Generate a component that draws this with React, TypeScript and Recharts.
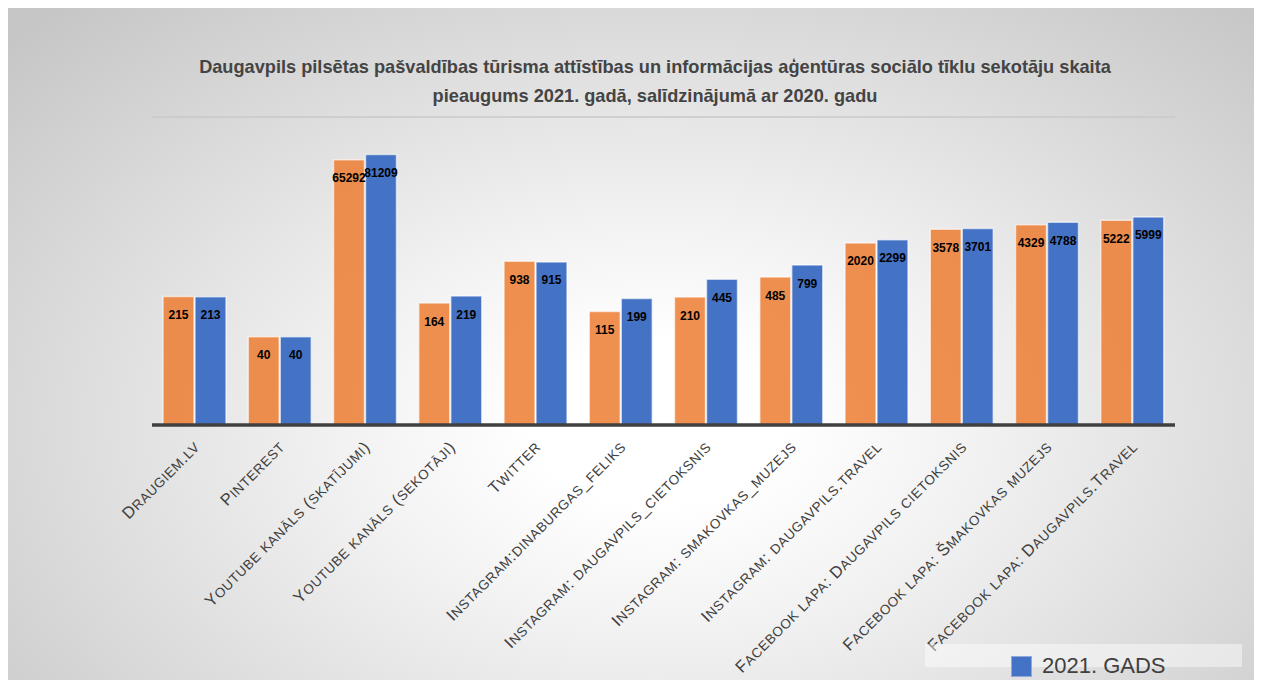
import React from 'react';
import { BarChart, Bar, XAxis, YAxis, CartesianGrid, LabelList } from 'recharts';

const categories = [
  'Draugiem.lv',
  'Pinterest',
  'Youtube kanāls (skatījumi)',
  'Youtube kanāls (sekotāji)',
  'Twitter',
  'Instagram:dinaburgas_feliks',
  'Instagram: daugavpils_cietoksnis',
  'Instagram: smakovkas_muzejs',
  'Instagram: daugavpils.travel',
  'Facebook lapa: Daugavpils cietoksnis',
  'Facebook lapa: Šmakovkas muzejs',
  'Facebook lapa: Daugavpils.Travel',
];
const values2020 = [215, 40, 65292, 164, 938, 115, 210, 485, 2020, 3578, 4329, 5222];
const values2021 = [213, 40, 81209, 219, 915, 199, 445, 799, 2299, 3701, 4788, 5999];
const yTicks = [1, 5, 25, 125, 625, 3125, 15625, 78125, 390625];

const title1 = 'Daugavpils pilsētas pašvaldības tūrisma attīstības un informācijas aģentūras sociālo tīklu sekotāju skaita';
const title2 = 'pieaugums 2021. gadā, salīdzinājumā ar 2020. gadu';
const series2020 = '2020. gads';
const series2021 = '2021. gads';

const data = categories.map((c, i) => ({ name: c, v2020: values2020[i], v2021: values2021[i] }));

const W = 1251;
const H = 672;

// split text into runs of "big" (original capitals / non-letters) and "small" (lowercase letters)
const smallCapsRuns = (s: string) => {
  const runs: { t: string; small: boolean }[] = [];
  for (const ch of s) {
    const small = ch !== ch.toUpperCase();
    const last = runs[runs.length - 1];
    if (last && last.small === small) last.t += ch;
    else runs.push({ t: ch, small });
  }
  return runs.map((r) => ({ t: r.t.toUpperCase(), small: r.small }));
};

const Tick = (props: any) => {
  const { x, y, payload } = props;
  const ax = x + 6;
  const ay = y + 15;
  const runs = smallCapsRuns(String(payload.value));
  return (
    <text
      x={ax}
      y={ay}
      transform={`rotate(-45, ${ax}, ${ay})`}
      textAnchor="end"
      fill="#404040"
      style={{ fontFamily: 'Liberation Sans', fontSize: 16.5, letterSpacing: 0.6 }}
    >
      {runs.map((r, i) => (
        <tspan key={i} style={{ fontSize: r.small ? 13.5 : 16.5 }}>
          {r.t}
        </tspan>
      ))}
    </text>
  );
};

export default function App() {
  return (
    <div
      style={{
        position: 'relative',
        width: W,
        height: H,
        background:
          'radial-gradient(ellipse 70% 85% at 52% 62%, #ffffff 14%, #f2f2f2 36%, #c6c6c6 100%)',
      }}
    >
      <div
        style={{
          position: 'absolute',
          left: 0,
          top: 45,
          width: 1294,
          textAlign: 'center',
          fontFamily: 'Liberation Sans',
          fontWeight: 'bold',
          fontSize: 18.2,
          lineHeight: '29px',
          color: '#444444',
        }}
      >
        <div>{title1}</div>
        <div>{title2}</div>
      </div>
      <BarChart
        width={W}
        height={H}
        data={data}
        margin={{ top: 109, right: 84, bottom: 0, left: 144 }}
        barCategoryGap={11}
        barGap={1}
        style={{ position: 'absolute', left: 0, top: 0 }}
      >
        <CartesianGrid vertical={false} stroke="#c8c8c8" strokeWidth={1.5} />
        <YAxis
          scale="log"
          domain={[1, 390625]}
          ticks={yTicks}
          allowDataOverflow
          width={0}
          tick={false}
          axisLine={false}
          tickLine={false}
        />
        <XAxis
          dataKey="name"
          interval={0}
          height={255}
          tickLine={false}
          axisLine={{ stroke: '#404040', strokeWidth: 3.5 }}
          tick={<Tick />}
        />
        <Bar
          dataKey="v2020"
          name={series2020}
          fill="#ED7D31"
          fillOpacity={0.85}
          stroke="#ffffff"
          strokeOpacity={0.6}
          strokeWidth={1.5}
          isAnimationActive={false}
        >
          <LabelList
            dataKey="v2020"
            position="insideTop"
            offset={14}
            fill="#000000"
            style={{ fontFamily: 'Liberation Sans', fontWeight: 'bold', fontSize: 12 }}
          />
        </Bar>
        <Bar
          dataKey="v2021"
          name={series2021}
          fill="#4472C4"
          stroke="#ffffff"
          strokeOpacity={0.6}
          strokeWidth={1.5}
          isAnimationActive={false}
        >
          <LabelList
            dataKey="v2021"
            position="insideTop"
            offset={14}
            fill="#000000"
            style={{ fontFamily: 'Liberation Sans', fontWeight: 'bold', fontSize: 12 }}
          />
        </Bar>
      </BarChart>
      <div
        style={{
          position: 'absolute',
          left: 917,
          top: 636,
          width: 317,
          height: 23,
          background: 'rgba(255,255,255,0.45)',
        }}
      />
      <div
        style={{
          position: 'absolute',
          left: 1003,
          top: 648,
          width: 21,
          height: 21,
          boxSizing: 'border-box',
          background: '#4472C4',
          border: '1px solid #8fa9dc',
        }}
      />
      <div
        style={{
          position: 'absolute',
          left: 1034,
          top: 643,
          fontFamily: 'Liberation Sans',
          fontSize: 22,
          lineHeight: '30px',
          color: '#404040',
          whiteSpace: 'nowrap',
        }}
      >
        {series2021.toUpperCase()}
      </div>
    </div>
  );
}
